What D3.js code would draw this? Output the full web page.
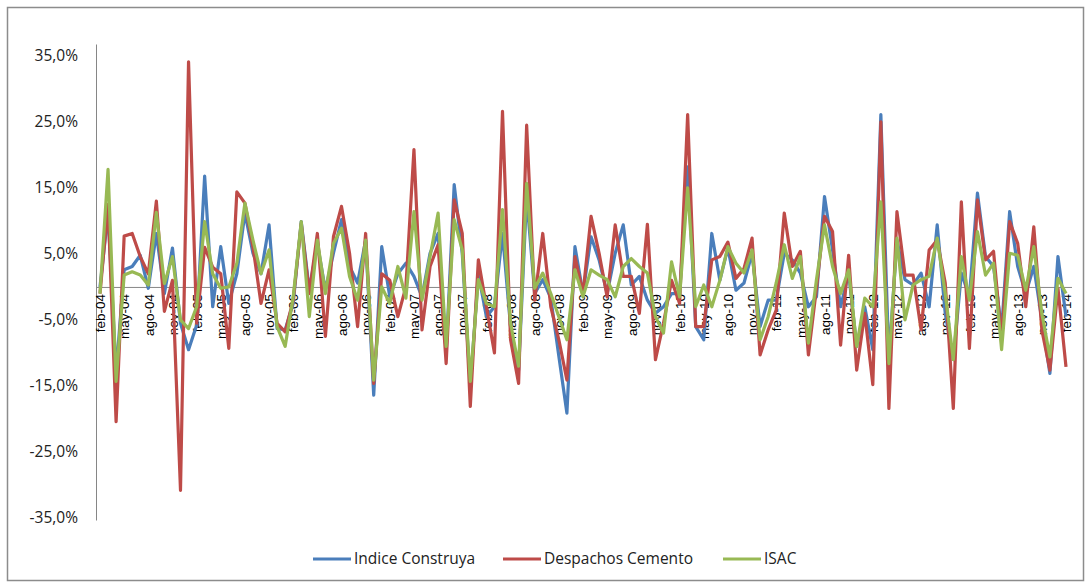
<!DOCTYPE html>
<html><head><meta charset="utf-8">
<script src="https://cdn.jsdelivr.net/npm/d3@7"></script>
<style>body{margin:0;background:#fff}svg{display:block}</style>
</head><body>
<svg id="c" width="1089" height="584"></svg>
<script>
const monthNames = ["ene","feb","mar","abr","may","jun","jul","ago","sep","oct","nov","dic"];
const startYear = 2004, startMonth = 1, nMonths = 121;
const categories = [];
for (let k = 0; k < nMonths; k++) {
  const m = (startMonth + k) % 12, y = startYear + Math.floor((startMonth + k) / 12);
  categories.push(monthNames[m] + "-" + String(y % 100).padStart(2, "0"));
}
const yTicks = [-35, -25, -15, -5, 5, 15, 25, 35];

const construya = [0,11.2,-13,2.6,3.1,4.8,-0.2,8.1,-1,5.9,-5.5,-9.5,-5.8,16.8,-3,6.1,-2.5,2,11.2,5.1,2,9.4,-6.3,-6.5,-2.5,9.9,-0.5,6.6,-0.5,5.1,10.2,3.1,0.6,7.1,-16.4,6.1,-1.5,2,3.6,1.6,-1.5,5.1,8.1,-10,15.5,5.1,-15.1,2,-4.5,-3,8.1,-6,-12.6,13.7,-1,1.1,-1.7,-10.5,-19.1,6.1,-1,7.6,4.1,-1,5.1,9.4,0.3,1.6,-2,-4,-3,-1,-1,18.2,-6,-8,8.1,1,5.9,-0.5,0.6,5.1,-6,-2,-2,5.1,4.1,2.1,-3,-1.5,13.7,5.6,-3,2.1,-9,-3,-9.5,26.1,-11,7.1,1.1,0.3,2.1,-3,9.4,-4,-11,2.1,-1.5,14.2,4.6,3.1,-6.5,11.4,3.1,-1,3.1,-5,-13.1,4.6,-4.5];
const cemento = [-1,12.5,-20.4,7.7,8.1,4.6,2,13,-3.7,1,-30.8,34.1,-5.5,6,3,2,-9.3,14.4,12.7,6.1,-2.5,2.6,-5.5,-6.8,-2,9.6,-1,8.1,-7.5,7.6,12.2,5.1,-6,8.1,-14.6,2,1,-4.5,0,20.8,-6.5,3.1,6.4,-11.6,13.2,8.1,-18.1,4.1,-3,-10,26.6,-8,-14.6,24.5,-2,8.1,-3,-8,-14.1,4.6,-1,10.7,5.1,-1.5,9.4,1.6,1.6,-4,9.5,-11,-5.5,1,-2.5,26.1,-6,-6,4.1,4.6,6.8,1.3,2.8,7.4,-10.3,-6.5,-3.5,11.2,3.1,5.4,-10.3,-0.2,10.7,8.4,-8.8,4.8,-12.6,-4,-14.8,25,-18.4,11.4,1.8,1.8,-6.5,5.6,7.1,0.6,-18.4,12.9,-9.3,13.2,4.1,5.4,-8,9.9,6.6,-3,9.1,-6.5,-12.6,-0.2,-12.1];
const isac = [-1,17.8,-14.3,1.8,2.3,1.8,0.3,11.3,0.5,4.6,-5,-6.3,-3,9.9,2,-0.2,0,3.6,12.7,7.1,2,5.6,-6,-9,-1.5,9.9,-4.5,7.1,-1,6.6,8.9,1.6,-2,7.1,-14.1,0,-2.5,3.1,-1.7,11.4,-2,4.6,11.2,-9,10.2,5.6,-14.3,1.1,-2.5,-3,11.7,-5.5,-12,15.7,-0.2,2.1,-1,-4.5,-8,2.6,-1.5,2.6,1.8,1.1,-1.5,3.1,4.3,3.1,2.1,-4.5,-7,3.8,-1.5,15,-3,0.3,-3,1,6.1,3.6,2.1,5.6,-8,-4.5,0.6,6.4,1.3,4.6,-8.5,1.1,9.4,3.1,-1,2.6,-9,-1.7,-3,12.9,-11.6,7.4,-5,0.3,1.1,1.6,7.4,-1,-11,4.6,-2,8.4,1.8,3.6,-9.5,5.1,4.8,-0.5,6.1,-4,-10.6,1.3,-1];

const seriesNames = ["Indice Construya", "Despachos Cemento", "ISAC"];
const seriesColors = ["#4a7ebb", "#be4b48", "#98b954"];
const seriesData = [construya, cemento, isac];

const svg = d3.select("#c");
svg.append("rect").attr("x", 7.5).attr("y", 7.5).attr("width", 1076).attr("height", 573)
  .attr("fill", "#fff").attr("stroke", "#8c8c8c").attr("stroke-width", 1.5);

const x = d3.scalePoint().domain(categories).range([100, 1066]);
const y = d3.scaleLinear().domain([-35.3, 36.8]).range([520, 44]);

// y axis
const yAxis = d3.axisLeft(y).tickValues(yTicks).tickSize(0).tickPadding(18)
  .tickFormat(d => d.toFixed(1).replace(".", ",") + "%");
const gy = svg.append("g").attr("transform", "translate(96,0)").call(yAxis);
gy.select(".domain").attr("stroke", "#868686");
gy.selectAll("text").attr("font-family", "'Open Sans', sans-serif").attr("font-size", 15.5).attr("fill", "#222");

// zero line with category labels
const xAxis = d3.axisBottom(x).tickSize(0).tickPadding(0)
  .tickValues(categories.filter((c, i) => i % 3 === 0));
const gx = svg.append("g").attr("transform", `translate(0,${y(0)})`).call(xAxis);
gx.select(".domain").attr("d", `M96,0.5H1072`).attr("stroke", "#868686");
gx.selectAll("text")
  .attr("transform", "rotate(-90)")
  .attr("text-anchor", "end")
  .attr("x", -7).attr("y", 0).attr("dy", "0.35em")
  .attr("font-family", "'Liberation Sans', Arial, sans-serif").attr("font-size", 13.5).attr("fill", "#000");

// lines
const line = d3.line().x((d, i) => x(categories[i])).y(d => y(d));
seriesData.forEach((s, k) => {
  svg.append("path").datum(s).attr("d", line).attr("fill", "none")
    .attr("stroke", seriesColors[k]).attr("stroke-width", 3.2).attr("stroke-linejoin", "round");
});

// legend
const legendX = [313, 503, 723];
seriesNames.forEach((n, k) => {
  const g = svg.append("g").attr("transform", `translate(${legendX[k]},559)`);
  g.append("line").attr("x1", 0).attr("x2", 38).attr("stroke", seriesColors[k]).attr("stroke-width", 3.2);
  g.append("text").attr("x", 41).attr("dy", "0.35em").text(n)
    .attr("font-family", "'Open Sans', sans-serif").attr("font-size", 15.5).attr("fill", "#222");
});
</script>
</body></html>
